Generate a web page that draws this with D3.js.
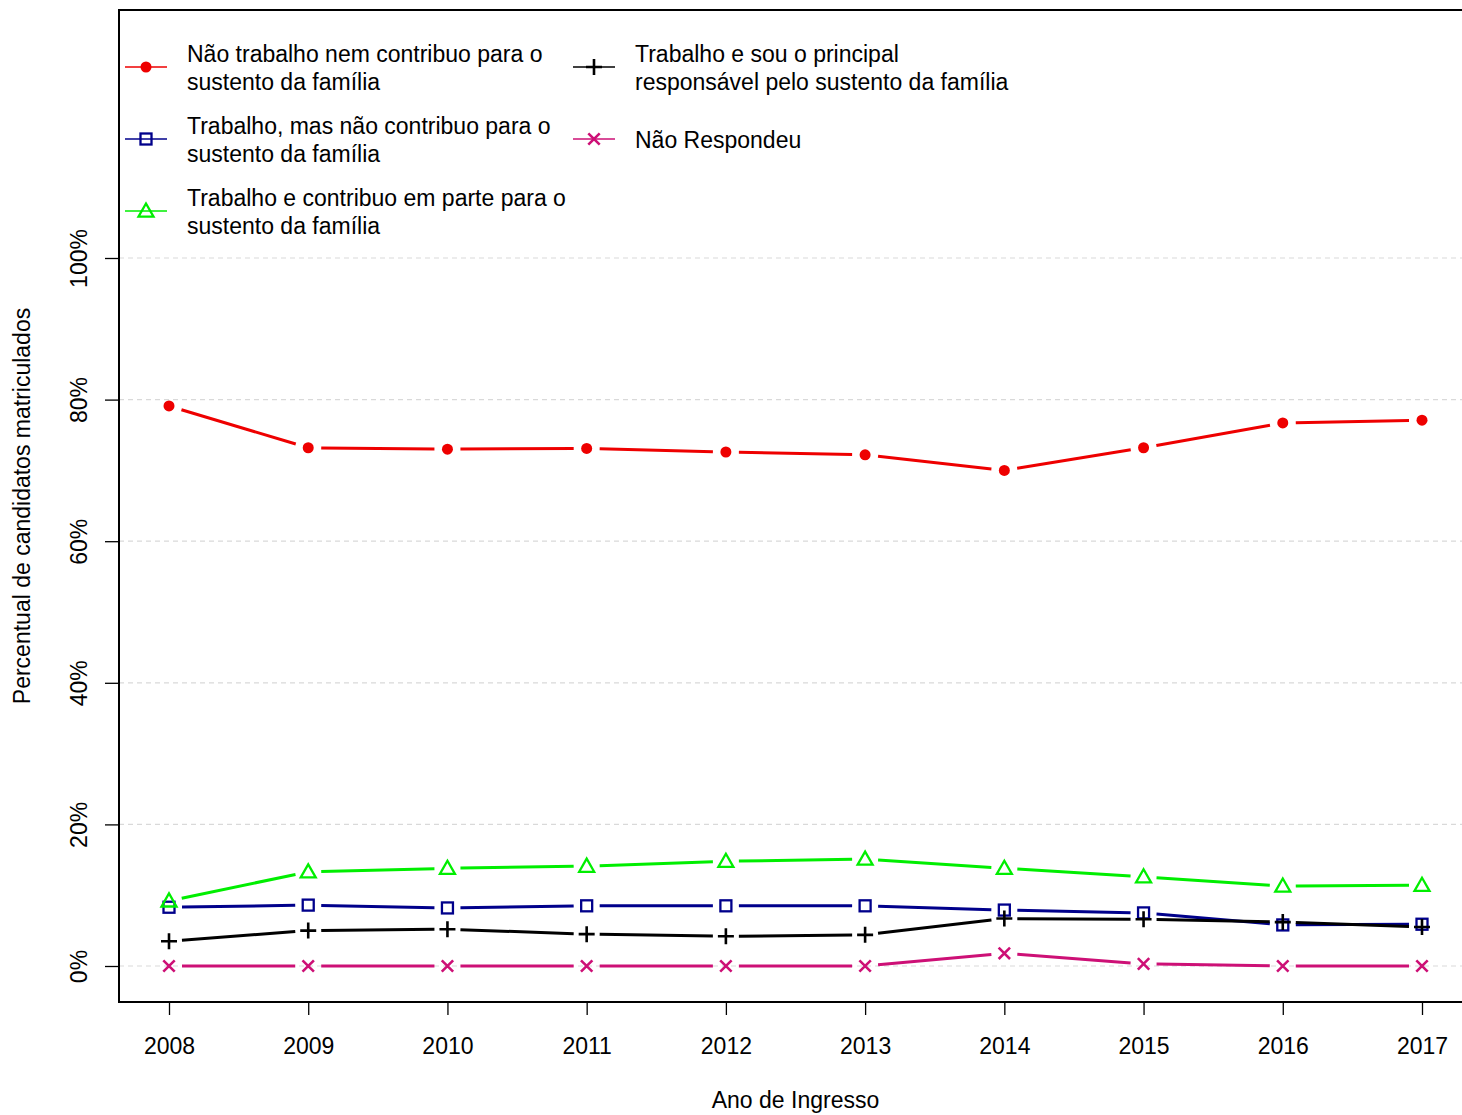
<!DOCTYPE html>
<html>
<head>
<meta charset="utf-8">
<script src="https://cdn.jsdelivr.net/npm/d3@7"></script>
<style>
  body { margin: 0; background: #fff; }
  text { font-family: "Liberation Sans", Arial, sans-serif; fill: #000; }
</style>
</head>
<body>
<div id="main"></div>
<script>
// anos de ingresso
const anos = [2008, 2009, 2010, 2011, 2012, 2013, 2014, 2015, 2016, 2017];

// percentuais por categoria
const naoTrabalha = [79.1, 73.2, 73.0, 73.1, 72.6, 72.2, 70.0, 73.2, 76.7, 77.1];
const trabalhaNaoContribui = [8.3, 8.6, 8.2, 8.5, 8.5, 8.5, 7.9, 7.5, 5.8, 5.9];
const contribuiParte = [9.2, 13.3, 13.8, 14.1, 14.8, 15.1, 13.8, 12.6, 11.3, 11.4];
const principalResponsavel = [3.5, 5.0, 5.2, 4.5, 4.2, 4.4, 6.7, 6.6, 6.2, 5.5];
const naoRespondeu = [0, 0, 0, 0, 0, 0, 1.8, 0.3, 0, 0];

const yTicks = [0, 20, 40, 60, 80, 100];

const series = [
  { nome: ["Não trabalho nem contribuo para o", "sustento da família"], valores: naoTrabalha, cor: "#ee0000", marca: "circle", col: 0, row: 0 },
  { nome: ["Trabalho, mas não contribuo para o", "sustento da família"], valores: trabalhaNaoContribui, cor: "#00008b", marca: "square", col: 0, row: 1 },
  { nome: ["Trabalho e contribuo em parte para o", "sustento da família"], valores: contribuiParte, cor: "#00ee00", marca: "triangle", col: 0, row: 2 },
  { nome: ["Trabalho e sou o principal", "responsável pelo sustento da família"], valores: principalResponsavel, cor: "#000000", marca: "plus", col: 1, row: 0 },
  { nome: ["Não Respondeu"], valores: naoRespondeu, cor: "#cd1076", marca: "cross", col: 1, row: 1 }
];

const W = 1462, H = 1115;
const box = { left: 119, top: 10, right: 1472, bottom: 1002 };
const fs = 23;

const svg = d3.select("#main").append("svg")
  .attr("width", W).attr("height", H);

const x = d3.scaleLinear().domain([2008, 2017]).range([169, 1422]);
const y = d3.scaleLinear().domain([0, 100]).range([966, 258]);

// grade
svg.append("g").selectAll("line")
  .data(yTicks)
  .join("line")
  .attr("x1", box.left).attr("x2", box.right)
  .attr("y1", d => y(d)).attr("y2", d => y(d))
  .attr("stroke", "#d9d9d9").attr("stroke-width", 1.2)
  .attr("stroke-dasharray", "5,4");

// eixos
const xAxis = d3.axisBottom(x).tickValues(anos).tickFormat(d3.format("d")).tickSize(13);
const gx = svg.append("g").attr("transform", `translate(0,${box.bottom})`).call(xAxis);
gx.select(".domain").remove();
gx.selectAll("line").attr("stroke", "#000").attr("stroke-width", 1.3);
gx.selectAll("text").attr("font-size", fs).attr("dy", 0).attr("y", 52)
  .style("font-family", "Liberation Sans, Arial, sans-serif");

const yAxis = d3.axisLeft(y).tickValues(yTicks).tickFormat(d => d + "%").tickSize(14);
const gy = svg.append("g").attr("transform", `translate(${box.left},0)`).call(yAxis);
gy.select(".domain").remove();
gy.selectAll("line").attr("stroke", "#000").attr("stroke-width", 1.3);
gy.selectAll("text")
  .attr("font-size", fs)
  .attr("x", 0).attr("y", 0).attr("dy", 0)
  .attr("text-anchor", "middle")
  .attr("transform", "translate(-32,0) rotate(-90)")
  .style("font-family", "Liberation Sans, Arial, sans-serif");

// moldura
svg.append("rect")
  .attr("x", box.left).attr("y", box.top)
  .attr("width", box.right - box.left).attr("height", box.bottom - box.top)
  .attr("fill", "none").attr("stroke", "#000").attr("stroke-width", 2);

// títulos
svg.append("text")
  .attr("x", (box.left + box.right) / 2).attr("y", 1108)
  .attr("text-anchor", "middle").attr("font-size", fs)
  .text("Ano de Ingresso");

svg.append("text")
  .attr("transform", `translate(30,${(box.top + box.bottom) / 2}) rotate(-90)`)
  .attr("text-anchor", "middle").attr("font-size", fs)
  .text("Percentual de candidatos matriculados");

function marca(g, tipo, cx, cy, cor) {
  if (tipo === "circle") {
    g.append("circle").attr("cx", cx).attr("cy", cy).attr("r", 5.5).attr("fill", cor);
  } else if (tipo === "square") {
    g.append("rect").attr("x", cx - 5.5).attr("y", cy - 5.5).attr("width", 11).attr("height", 11)
      .attr("fill", "none").attr("stroke", cor).attr("stroke-width", 2.3);
  } else if (tipo === "triangle") {
    const s = 7.5;
    g.append("path")
      .attr("d", `M${cx},${cy - s} L${cx + s},${cy + s * 0.75} L${cx - s},${cy + s * 0.75} Z`)
      .attr("fill", "none").attr("stroke", cor).attr("stroke-width", 2.3);
  } else if (tipo === "plus") {
    const s = 8;
    g.append("path").attr("d", `M${cx - s},${cy} H${cx + s} M${cx},${cy - s} V${cy + s}`)
      .attr("stroke", cor).attr("stroke-width", 2.6).attr("fill", "none");
  } else if (tipo === "cross") {
    const s = 5.7;
    g.append("path").attr("d", `M${cx - s},${cy - s} L${cx + s},${cy + s} M${cx - s},${cy + s} L${cx + s},${cy - s}`)
      .attr("stroke", cor).attr("stroke-width", 2.6).attr("fill", "none");
  }
}

// linhas com intervalo em volta dos pontos (type = "b")
const gap = 13;
series.forEach(s => {
  const g = svg.append("g");
  const pts = s.valores.map((v, i) => [x(anos[i]), y(v)]);
  d3.pairs(pts).forEach(([a, b]) => {
    const dx = b[0] - a[0], dy = b[1] - a[1];
    const len = Math.hypot(dx, dy);
    if (len <= 2 * gap) return;
    const ux = dx / len, uy = dy / len;
    g.append("line")
      .attr("x1", a[0] + ux * gap).attr("y1", a[1] + uy * gap)
      .attr("x2", b[0] - ux * gap).attr("y2", b[1] - uy * gap)
      .attr("stroke", s.cor).attr("stroke-width", 3);
  });
  pts.forEach(p => marca(g, s.marca, p[0], p[1], s.cor));
});

// legenda
const legX = [125, 573], legY0 = 67, legStep = 72;
series.forEach(s => {
  const lx = legX[s.col], ly = legY0 + s.row * legStep;
  const g = svg.append("g");
  g.append("line").attr("x1", lx).attr("x2", lx + 42).attr("y1", ly).attr("y2", ly)
    .attr("stroke", s.cor).attr("stroke-width", 1.5);
  marca(g, s.marca, lx + 21, ly, s.cor);
  const t = g.append("text").attr("font-size", fs);
  const n = s.nome.length;
  s.nome.forEach((linha, i) => {
    t.append("tspan")
      .attr("x", lx + 62)
      .attr("y", ly + 9 + (i - (n - 1) / 2) * 28)
      .text(linha);
  });
});
</script>
</body>
</html>
